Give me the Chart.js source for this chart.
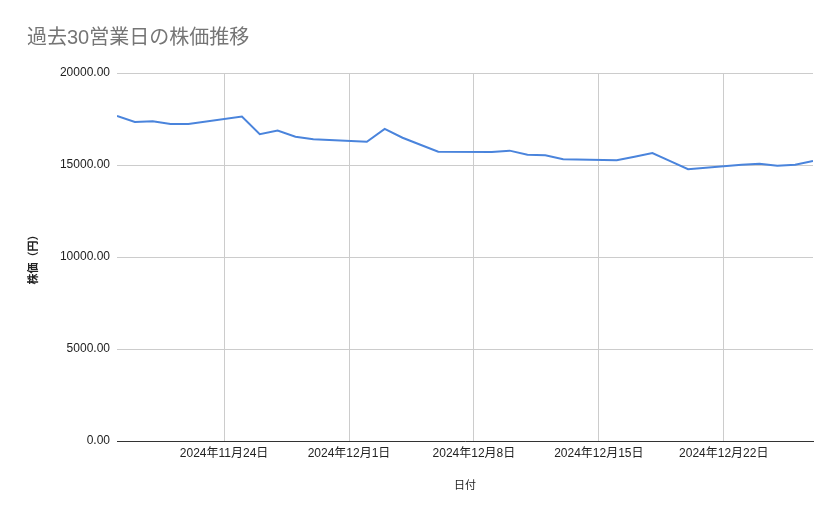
<!DOCTYPE html>
<html>
<head>
<meta charset="utf-8">
<script src="https://cdn.jsdelivr.net/npm/chart.js@4"></script>
<style>
  html, body { margin: 0; padding: 0; background: #fff; }
  #wrap { width: 839px; height: 519px; }
</style>
</head>
<body>
<div id="wrap"><canvas id="chart"></canvas></div>
<script>
// 30 business days (dates) and closing price
const dates = [
  '2024-11-18', '2024-11-19', '2024-11-20', '2024-11-21', '2024-11-22',
  '2024-11-25', '2024-11-26', '2024-11-27', '2024-11-28', '2024-11-29',
  '2024-12-02', '2024-12-03', '2024-12-04', '2024-12-05', '2024-12-06',
  '2024-12-09', '2024-12-10', '2024-12-11', '2024-12-12', '2024-12-13',
  '2024-12-16', '2024-12-17', '2024-12-18', '2024-12-19', '2024-12-20',
  '2024-12-23', '2024-12-24', '2024-12-25', '2024-12-26', '2024-12-27'
];
const prices = [
  17660, 17340, 17380, 17230, 17230,
  17630, 16670, 16870, 16540, 16400,
  16260, 16960, 16480, 16100, 15720,
  15710, 15780, 15560, 15530, 15310,
  15260, 15450, 15650, 15210, 14770,
  15020, 15070, 14960, 15020, 15220
];
// x axis tick labels (weekly)
const tickDates = ['2024-11-24', '2024-12-01', '2024-12-08', '2024-12-15', '2024-12-22'];
const yTicks = [0, 5000, 10000, 15000, 20000];

const FONT = "'Liberation Sans', Arial, 'Noto Sans CJK JP', sans-serif";

// turn 'YYYY-MM-DD' into a day number
function dayNum(s) {
  const p = s.split('-').map(Number);
  return Date.UTC(p[0], p[1] - 1, p[2]) / 86400000;
}
function dayLabel(n) {
  const d = new Date(n * 86400000);
  return d.getUTCFullYear() + '年' + (d.getUTCMonth() + 1) + '月' + d.getUTCDate() + '日';
}

const points = dates.map((d, i) => ({ x: dayNum(d), y: prices[i] }));

new Chart(document.getElementById('chart'), {
  type: 'line',
  data: {
    datasets: [{
      label: '株価',
      data: points,
      borderColor: '#4a84dc',
      borderWidth: 2,
      pointRadius: 0,
      tension: 0,
      fill: false
    }]
  },
  options: {
    responsive: true,
    maintainAspectRatio: false,
    animation: false,
    layout: { padding: { left: 27, right: 26, top: 0, bottom: 26 } },
    plugins: {
      legend: { display: false },
      tooltip: { enabled: false },
      title: {
        display: true,
        text: '過去30営業日の株価推移',
        align: 'start',
        color: '#757575',
        font: { family: FONT, size: 20, weight: 'normal' },
        padding: { top: 26, bottom: 23 }
      }
    },
    scales: {
      x: {
        type: 'linear',
        min: dayNum(dates[0]),
        max: dayNum(dates[dates.length - 1]),
        afterBuildTicks: axis => {
          axis.ticks = tickDates.map(d => ({ value: dayNum(d) }));
        },
        afterFit: axis => { axis.height = 52; },
        ticks: {
          callback: v => dayLabel(v),
          color: '#222',
          font: { family: FONT, size: 12 },
          padding: 5,
          maxRotation: 0,
          autoSkip: false
        },
        grid: { color: '#cccccc', drawTicks: false },
        border: { display: true, color: '#333333', width: 1 },
        title: {
          display: true,
          text: '日付',
          color: '#222',
          font: { family: FONT, size: 11 },
          padding: { top: 18, bottom: 0 }
        }
      },
      y: {
        min: 0,
        max: 20000,
        afterBuildTicks: axis => {
          axis.ticks = yTicks.map(v => ({ value: v }));
        },
        afterFit: axis => { axis.width = 90; },
        ticks: {
          callback: v => v.toFixed(2),
          color: '#222',
          font: { family: FONT, size: 12 },
          padding: 7
        },
        grid: { color: '#cccccc', drawTicks: false },
        border: { display: false },
        title: {
          display: true,
          text: '株価（円）',
          color: '#222',
          font: { family: FONT, size: 11, weight: 'bold' },
          padding: { top: 0, bottom: 0 }
        }
      }
    }
  }
});
</script>
</body>
</html>
